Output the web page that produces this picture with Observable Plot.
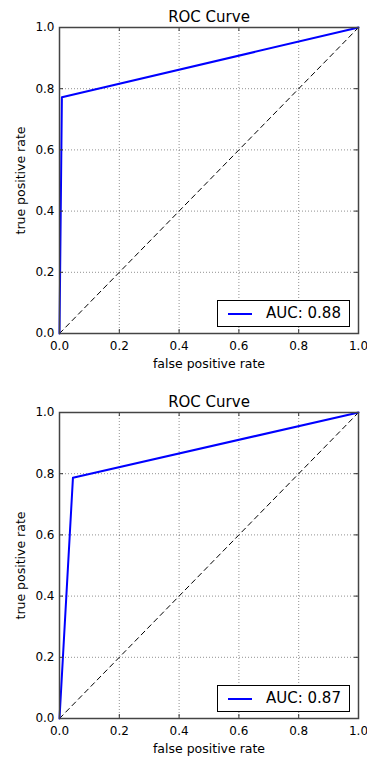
<!DOCTYPE html>
<html>
<head>
<meta charset="utf-8">
<script src="https://cdn.jsdelivr.net/npm/d3@7"></script>
<script src="https://cdn.jsdelivr.net/npm/@observablehq/plot@0.6"></script>
<style>
  html, body { margin: 0; padding: 0; background: #fff; }
  body { font-family: "DejaVu Sans", sans-serif; }
  #root { width: 367px; }
  .block { position: relative; width: 367px; }
  .block svg { display: block; }
  .legend {
    position: absolute; left: 217px; width: 131px; height: 25px;
    border: 1px solid #000; background: #fff;
    font: 15px "DejaVu Sans", sans-serif; color: #000;
  }
  .legend .swatch { position: absolute; left: 10px; top: 12px; width: 24px; height: 2px; background: #0000ff; }
  .legend .lab { position: absolute; left: 48px; top: 3px; line-height: 19px; white-space: nowrap; }
</style>
</head>
<body>
<div id="root"></div>
<script>
// ---- data ----
const titleText = "ROC Curve";
const xLabel = "false positive rate";
const yLabel = "true positive rate";
const tickValues = [0, 0.2, 0.4, 0.6, 0.8, 1.0];
const chanceFpr = [0, 1];
const chanceTpr = [0, 1];

const fprA = [0, 0.008, 1];
const tprA = [0, 0.772, 1];
const aucA = 0.88;

const fprB = [0, 0.045, 1];
const tprB = [0, 0.787, 1];
const aucB = 0.87;

function makeROC(fpr, tpr, auc, opts) {
  const W = 367, H = opts.height;
  const mL = 59, mR = 9, mT = opts.marginTop, mB = opts.marginBottom;
  const innerW = W - mL - mR, innerH = H - mT - mB;
  const curve = fpr.map((x, i) => ({x, y: tpr[i]}));
  const chance = chanceFpr.map((x, i) => ({x, y: chanceTpr[i]}));
  const fmt = d3.format(".1f");
  const gridStyle = {stroke: "#000", strokeOpacity: 0.55, strokeWidth: 0.8, strokeDasharray: "1,2"};
  const tickStyle = {stroke: "#333", strokeWidth: 1};
  const svg = Plot.plot({
    width: W, height: H,
    marginLeft: mL, marginRight: mR, marginTop: mT, marginBottom: mB,
    style: {fontFamily: "DejaVu Sans, sans-serif", fontSize: "12px", color: "#000", background: "#fff"},
    x: {domain: [0, 1], ticks: tickValues, tickFormat: fmt, label: null},
    y: {domain: [0, 1], ticks: tickValues, tickFormat: fmt, label: null},
    marks: [
      Plot.gridX(tickValues, gridStyle),
      Plot.gridY(tickValues, gridStyle),
      Plot.line(chance, {x: "x", y: "y", stroke: "#000", strokeWidth: 1, strokeDasharray: "5,4"}),
      Plot.line(curve, {x: "x", y: "y", stroke: "#0000ff", strokeWidth: 2}),
      // inward ticks on all four sides
      Plot.tickX(tickValues, {x: d => d, insetTop: innerH - 4, ...tickStyle}),
      Plot.tickX(tickValues, {x: d => d, insetBottom: innerH - 4, ...tickStyle}),
      Plot.tickY(tickValues, {y: d => d, insetRight: innerW - 4, ...tickStyle}),
      Plot.tickY(tickValues, {y: d => d, insetLeft: innerW - 4, ...tickStyle}),
      Plot.frame({stroke: "#444", strokeWidth: 1.5}),
      Plot.axisX({ticks: tickValues, tickFormat: fmt, tickSize: 0, tickPadding: 8, label: null, fontSize: 12}),
      Plot.axisY({ticks: tickValues, tickFormat: fmt, tickSize: 0, tickPadding: 5, label: null, fontSize: 12}),
      Plot.text([titleText], {text: d => d, frameAnchor: "top", lineAnchor: "middle", textAnchor: "middle", dy: -10.5, fontSize: 15, fill: "#000"}),
      Plot.text([xLabel], {text: d => d, frameAnchor: "bottom", lineAnchor: "middle", textAnchor: "middle", dy: 30, fontSize: 12.5, fill: "#000"}),
      Plot.text([yLabel], {text: d => d, frameAnchor: "left", lineAnchor: "middle", textAnchor: "middle", dx: -39, rotate: -90, fontSize: 12.5, fill: "#000"})
    ]
  });
  const block = document.createElement("div");
  block.className = "block";
  block.appendChild(svg);
  const leg = document.createElement("div");
  leg.className = "legend";
  leg.style.top = (H - mB - 6.3 - 27) + "px";
  const sw = document.createElement("div"); sw.className = "swatch";
  const lab = document.createElement("div"); lab.className = "lab";
  lab.textContent = "AUC: " + d3.format(".2f")(auc);
  leg.appendChild(sw); leg.appendChild(lab);
  block.appendChild(leg);
  return block;
}

const root = document.getElementById("root");
root.appendChild(makeROC(fprA, tprA, aucA, {height: 378, marginTop: 27, marginBottom: 45}));
root.appendChild(makeROC(fprB, tprB, aucB, {height: 379, marginTop: 34, marginBottom: 39}));
</script>
</body>
</html>
